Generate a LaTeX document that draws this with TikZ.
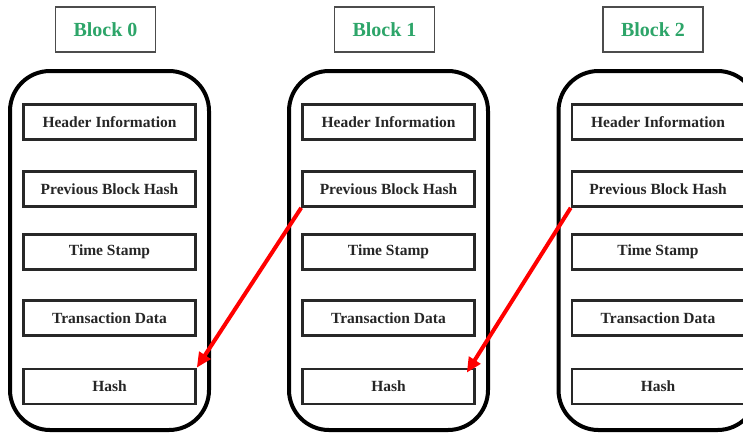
\documentclass[tikz,border=0pt]{standalone}
\usepackage{fontspec}
\setmainfont{Liberation Serif}
\usetikzlibrary{arrows.meta,calc}
\definecolor{titlegreen}{RGB}{45,165,105}
\definecolor{boxgray}{RGB}{40,40,40}
\begin{document}
\begin{tikzpicture}[x=1pt,y=-1pt,
  blockframe/.style={draw=black,line width=4pt,rounded corners=40pt,
    minimum width=199pt,minimum height=359pt,inner sep=0pt},
  field/.style={draw=boxgray,line width=2.6pt,minimum width=172pt,
    minimum height=35pt,inner sep=0pt,
    font=\fontsize{15.5}{18}\selectfont\bfseries,text=black!85},
  blocktitle/.style={draw=gray!60!black,line width=1.5pt,minimum width=100pt,
    minimum height=45pt,inner sep=0pt,
    font=\fontsize{20}{24}\selectfont\bfseries,text=titlegreen},
  link/.style={draw=red,line width=4pt,-{Triangle[length=15pt,width=13pt]}}]
  \clip (0,0) rectangle (743,432);
  \fill[white] (0,0) rectangle (743,432);
  % three blocks of the chain
  \foreach \i/\cx/\tx in {0/109.5/105.5, 1/388.5/384.5, 2/658/653} {
    \node[blocktitle] (t\i) at (\tx,29.5) {Block \i};
    \node[blockframe] (f\i) at (\cx,250.5) {};
    \node[field] (h\i) at (\cx,122) {Header Information};
    \node[field] (p\i) at (\cx,189) {Previous Block Hash};
    \node[field] (s\i) at (\cx,252) {Time Stamp};
    \node[field] (d\i) at (\cx,318) {Transaction Data};
    \node[field] (x\i) at (\cx,386.5) {Hash};
  }
  % each previous-hash field points back to the hash of the block before
  \draw[link] (p1.south west) -- (x0.north east);
  \draw[link] (p2.south west) -- ($(x1.north east)+(-9,5)$);
\end{tikzpicture}
\end{document}
